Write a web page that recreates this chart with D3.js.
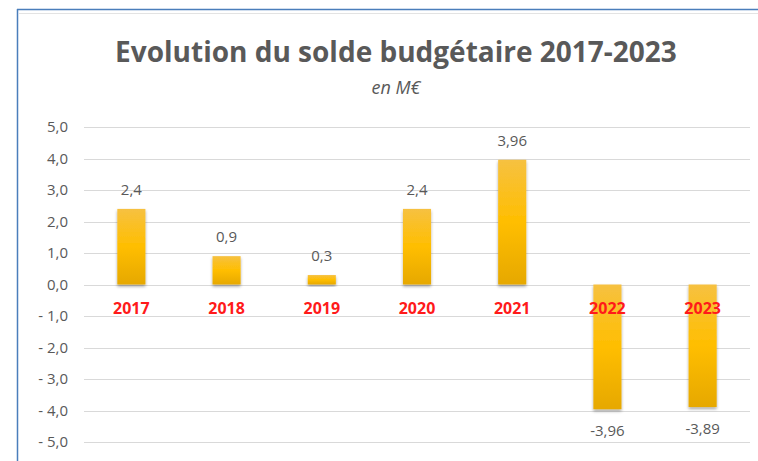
<!DOCTYPE html>
<html>
<head>
<meta charset="utf-8">
<script src="https://cdn.jsdelivr.net/npm/d3@7"></script>
<style>
  body { margin: 0; background: #fff; }
  svg { display: block; }
  .tick-label { font-family: "Open Sans", sans-serif; font-size: 15px; fill: #595959; }
  .value-label { font-family: "Open Sans", sans-serif; font-size: 15px; fill: #595959; }
  .year-label { font-family: "Open Sans", sans-serif; font-size: 16px; font-weight: bold; fill: #ff1a1a; }
</style>
</head>
<body>
<div id="chart"></div>
<script>
const years = ["2017", "2018", "2019", "2020", "2021", "2022", "2023"];
const soldes = [2.4, 0.9, 0.3, 2.4, 3.96, -3.96, -3.89];
const valueLabels = ["2,4", "0,9", "0,3", "2,4", "3,96", "-3,96", "-3,89"];
const yTicks = [5, 4, 3, 2, 1, 0, -1, -2, -3, -4, -5];

const width = 758, height = 461;
const plot = {left: 84, right: 750, top: 127, bottom: 442};

const svg = d3.select("#chart").append("svg")
  .attr("width", width)
  .attr("height", height);

// bar gradient + soft shadow like the excel look
const defs = svg.append("defs");
const grad = defs.append("linearGradient")
  .attr("id", "barGrad")
  .attr("x1", 0).attr("y1", 0).attr("x2", 0).attr("y2", 1);
grad.append("stop").attr("offset", "0%").attr("stop-color", "#f6c141");
grad.append("stop").attr("offset", "50%").attr("stop-color", "#ffbe00");
grad.append("stop").attr("offset", "100%").attr("stop-color", "#e6a800");

const shadow = defs.append("filter").attr("id", "shadow")
  .attr("x", "-30%").attr("y", "-10%").attr("width", "160%").attr("height", "130%");
shadow.append("feDropShadow")
  .attr("dx", 0).attr("dy", 2).attr("stdDeviation", 1.5)
  .attr("flood-color", "#000").attr("flood-opacity", 0.35);

// spreadsheet frame
svg.append("line").attr("x1", 17).attr("x2", width).attr("y1", 9.5).attr("y2", 9.5)
  .attr("stroke", "#4a7ebb").attr("stroke-width", 1.5);
svg.append("line").attr("x1", 17.5).attr("x2", 17.5).attr("y1", 9).attr("y2", height)
  .attr("stroke", "#4a7ebb").attr("stroke-width", 1.5);
svg.append("line").attr("x1", 19).attr("x2", width).attr("y1", 13.5).attr("y2", 13.5)
  .attr("stroke", "#e3e3e3");

const x = d3.scaleBand()
  .domain(years)
  .range([plot.left, plot.right])
  .paddingInner(0.705)
  .paddingOuter(0.35);

const y = d3.scaleLinear()
  .domain([-5, 5])
  .range([plot.bottom, plot.top]);

// gridlines
svg.append("g")
  .selectAll("line")
  .data(yTicks)
  .join("line")
  .attr("x1", plot.left)
  .attr("x2", plot.right)
  .attr("y1", d => Math.round(y(d)) + 0.5)
  .attr("y2", d => Math.round(y(d)) + 0.5)
  .attr("stroke", "#d9d9d9")
  .attr("stroke-width", 1);

// y axis labels, excel style "- 1,0"
const fmt = d => (d < 0 ? "- " : "") + d3.format(".1f")(Math.abs(d)).replace(".", ",");
svg.append("g")
  .selectAll("text")
  .data(yTicks)
  .join("text")
  .attr("class", "tick-label")
  .attr("x", 68)
  .attr("y", d => y(d))
  .attr("dy", "0.35em")
  .attr("text-anchor", "end")
  .text(fmt);

const data = years.map((yr, i) => ({year: yr, value: soldes[i], label: valueLabels[i]}));

// bars
svg.append("g")
  .selectAll("rect")
  .data(data)
  .join("rect")
  .attr("x", d => x(d.year))
  .attr("width", x.bandwidth())
  .attr("y", d => y(Math.max(0, d.value)))
  .attr("height", d => Math.abs(y(d.value) - y(0)))
  .attr("fill", "url(#barGrad)")
  .attr("filter", "url(#shadow)");

// value labels
svg.append("g")
  .selectAll("text")
  .data(data)
  .join("text")
  .attr("class", "value-label")
  .attr("x", d => x(d.year) + x.bandwidth() / 2)
  .attr("y", d => d.value >= 0 ? y(d.value) - 14 : y(d.value) + 27)
  .attr("text-anchor", "middle")
  .text(d => d.label);

// category labels sit right under the zero line
svg.append("g")
  .selectAll("text")
  .data(data)
  .join("text")
  .attr("class", "year-label")
  .attr("x", d => x(d.year) + x.bandwidth() / 2)
  .attr("y", y(0) + 29)
  .attr("text-anchor", "middle")
  .text(d => d.year);

// titles
svg.append("text")
  .attr("x", 396)
  .attr("y", 62)
  .attr("text-anchor", "middle")
  .style("font-family", "'Open Sans', sans-serif")
  .style("font-size", "28px")
  .style("font-weight", "bold")
  .style("fill", "#595959")
  .text("Evolution du solde budgétaire 2017-2023");

svg.append("text")
  .attr("x", 396)
  .attr("y", 94)
  .attr("text-anchor", "middle")
  .style("font-family", "'Open Sans', sans-serif")
  .style("font-size", "18px")
  .style("font-style", "italic")
  .style("fill", "#595959")
  .text("en M€");
</script>
</body>
</html>
